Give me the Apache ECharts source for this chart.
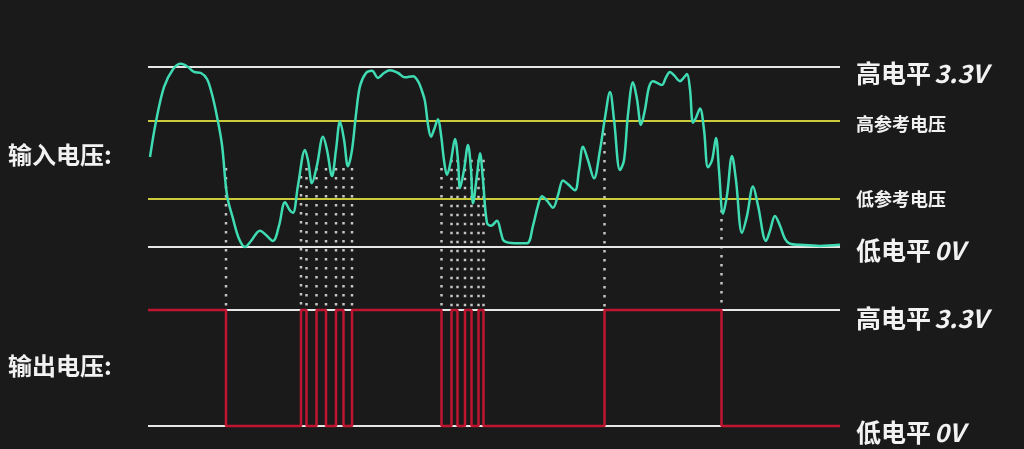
<!DOCTYPE html>
<html>
<head>
<meta charset="utf-8">
<script src="https://cdn.jsdelivr.net/npm/echarts@6/dist/echarts.min.js"></script>
<style>
html,body{margin:0;padding:0;background:#1a1a1a;}
#c{width:1024px;height:449px;}
</style>
</head>
<body>
<div id="c"></div>
<script>
// Input voltage curve: time (arbitrary units) and volts
const T_IN = [
  2,8,16,25,33,40,46,53,59,64,
  69,74,79,85,91,97,103,112,118,125,
  131,137,142,145,150,157,160,164,169,175,
  179,184,188,192,196,200,204,208,212,218,
  224,230,236,242,250,257,265,270,274,277,
  280,283,286,290,293,296,299,303,307,310,
  312,316,320,323,325,329,332,335,339,343,
  349,353,356,367,379,385,390,394,399,405,
  410,415,420,427,431,435,440,446,452,457,
  462,466,472,476,480,485,489,493,497,501,
  505,510,514,518,522,526,532,536,539,542,
  545,548,552,556,560,564,568,571,575,579,
  584,588,594,599,605,610,618,622,627,632,
  637,642,652,672,692
];
const V_IN = [
  1.65,2.30,2.93,3.26,3.36,3.30,3.21,3.19,3.08,2.80,
  2.39,1.87,0.95,0.52,0.15,0.00,0.11,0.30,0.22,0.11,
  0.39,0.82,0.67,0.63,1.13,1.78,1.59,1.17,1.50,2.02,
  1.78,1.30,1.78,2.30,1.97,1.48,1.78,2.43,2.95,3.19,
  3.23,3.10,3.19,3.24,3.19,3.11,3.13,3.04,2.86,2.67,
  2.24,2.02,2.15,2.34,2.06,1.59,1.32,1.59,1.98,1.59,
  1.08,1.41,1.87,1.41,0.80,1.32,1.72,1.22,0.44,0.39,
  0.48,0.26,0.11,0.07,0.07,0.39,0.76,0.93,0.85,0.72,
  0.95,1.22,1.15,1.04,1.41,1.84,1.59,1.26,1.78,2.37,
  2.84,2.34,1.41,1.59,2.43,3.02,2.71,2.24,2.52,2.93,
  3.04,3.00,2.97,3.11,3.21,3.15,3.04,3.11,3.17,2.89,
  2.28,2.37,2.54,2.15,1.46,1.59,2.00,1.41,0.61,0.95,
  1.67,1.22,0.26,0.57,1.11,0.76,0.11,0.30,0.57,0.39,
  0.15,0.06,0.04,0.02,0.04
];
// Output square wave: level from each time onward
const T_OUT = [0,78,153,158.5,168.5,178,188,195.5,204,293.5,303.5,309.5,317,323.5,330.5,335.5,456.5,573.5,692];
const V_OUT = [3.3,0,3.3,0,3.3,0,3.3,0,3.3,0,3.3,0,3.3,0,3.3,0,3.3,0,0];
// Dotted guide lines: time and starting voltage on the input panel
const T_DOT = [78,153,158.5,168.5,178,188,195.5,204,293.5,303.5,309.5,317,323.5,330.5,335.5,456.5,573.5];
const V_DOT = [1.45,1.3,1.45,1.45,1.45,1.45,1.45,1.45,1.45,1.6,1.6,1.6,1.6,1.6,1.6,2.09,0.68];
const DOT_END = -1.16; // output-high level expressed on the input axis
// Levels and labels
const HIGH = 3.3, LOW = 0, REF_HIGH = 2.32, REF_LOW = 0.89;
const LBL_HIGH = ['高电平', '3.3V'];
const LBL_LOW = ['低电平', '0V'];
const LBL_REF_HIGH = '高参考电压';
const LBL_REF_LOW = '低参考电压';
const LBL_IN = '输入电压:';
const LBL_OUT = '输出电压:';

const FONT = '"Noto Sans CJK SC", "Noto Sans", sans-serif';
const richBig = {
  a: {fontSize: 25, color: '#f2f2f2', fontFamily: FONT, fontWeight: 'bold'},
  b: {fontSize: 25, color: '#f2f2f2', fontFamily: FONT, fontStyle: 'italic', fontWeight: 'bold'}
};
function bigLabel(arr, dy) {
  return {show: true, position: 'end', distance: 16, offset: [0, dy],
    formatter: '{a|' + arr[0] + '} {b|' + arr[1] + '}', rich: richBig};
}
function smallLabel(txt, dy) {
  return {show: true, position: 'end', distance: 16, offset: [0, dy],
    formatter: txt, color: '#f2f2f2', fontSize: 18, fontWeight: 'bold', fontFamily: FONT};
}
const WHITE = '#e6e6e6', YELLOW = '#cccc3a';

const chart = echarts.init(document.getElementById('c'));
chart.setOption({
  backgroundColor: '#1a1a1a',
  animation: false,
  grid: [
    {left: 148, right: 184, top: 67, height: 180},
    {left: 148, right: 184, top: 310, height: 116}
  ],
  xAxis: [
    {gridIndex: 0, type: 'value', min: 0, max: 692, show: false},
    {gridIndex: 1, type: 'value', min: 0, max: 692, show: false}
  ],
  yAxis: [
    {gridIndex: 0, type: 'value', min: 0, max: 3.3, show: false},
    {gridIndex: 1, type: 'value', min: 0, max: 3.3, show: false}
  ],
  graphic: [
    {type: 'text', left: 8, top: 143, style: {text: LBL_IN, fill: '#f2f2f2', font: 'bold 24px ' + FONT}},
    {type: 'text', left: 8, top: 354, style: {text: LBL_OUT, fill: '#f2f2f2', font: 'bold 24px ' + FONT}}
  ],
  series: [
    {
      type: 'line', xAxisIndex: 0, yAxisIndex: 0, data: [], z: 1,
      markLine: {
        symbol: 'none', silent: true, animation: false,
        data: [
          {yAxis: HIGH, lineStyle: {color: WHITE, width: 2, type: 'solid'}, label: bigLabel(LBL_HIGH, 6)},
          {yAxis: REF_HIGH, lineStyle: {color: YELLOW, width: 2, type: 'solid'}, label: smallLabel(LBL_REF_HIGH, 4)},
          {yAxis: REF_LOW, lineStyle: {color: YELLOW, width: 2, type: 'solid'}, label: smallLabel(LBL_REF_LOW, 1)},
          {yAxis: LOW, lineStyle: {color: WHITE, width: 2, type: 'solid'}, label: bigLabel(LBL_LOW, 3)}
        ]
      }
    },
    {
      type: 'line', xAxisIndex: 1, yAxisIndex: 1, data: [], z: 1,
      markLine: {
        symbol: 'none', silent: true, animation: false,
        data: [
          {yAxis: HIGH, lineStyle: {color: WHITE, width: 2, type: 'solid'}, label: bigLabel(LBL_HIGH, 8)},
          {yAxis: LOW, lineStyle: {color: WHITE, width: 2, type: 'solid'}, label: bigLabel(LBL_LOW, 6)}
        ]
      }
    },
    {
      type: 'custom', xAxisIndex: 0, yAxisIndex: 0, z: 2, clip: false,
      data: T_DOT.map((t, i) => [t, V_DOT[i]]),
      renderItem: function (params, api) {
        const p1 = api.coord([api.value(0), api.value(1)]);
        const p2 = api.coord([api.value(0), DOT_END]);
        return {type: 'line', shape: {x1: p1[0], y1: p1[1], x2: p2[0], y2: p2[1]},
          style: {stroke: '#c4c4c4', lineWidth: 2.5, lineDash: [2.5, 6.5]}};
      }
    },
    {
      type: 'line', xAxisIndex: 0, yAxisIndex: 0, z: 5, clip: false,
      data: T_IN.map((t, i) => [t, V_IN[i]]),
      smooth: 0.35, showSymbol: false,
      lineStyle: {color: '#3fdcb4', width: 2.5}
    },
    {
      type: 'line', xAxisIndex: 1, yAxisIndex: 1, z: 5, clip: false,
      data: T_OUT.map((t, i) => [t, V_OUT[i]]),
      step: 'end', showSymbol: false,
      lineStyle: {color: '#bf1530', width: 2.5}
    }
  ]
});
</script>
</body>
</html>
